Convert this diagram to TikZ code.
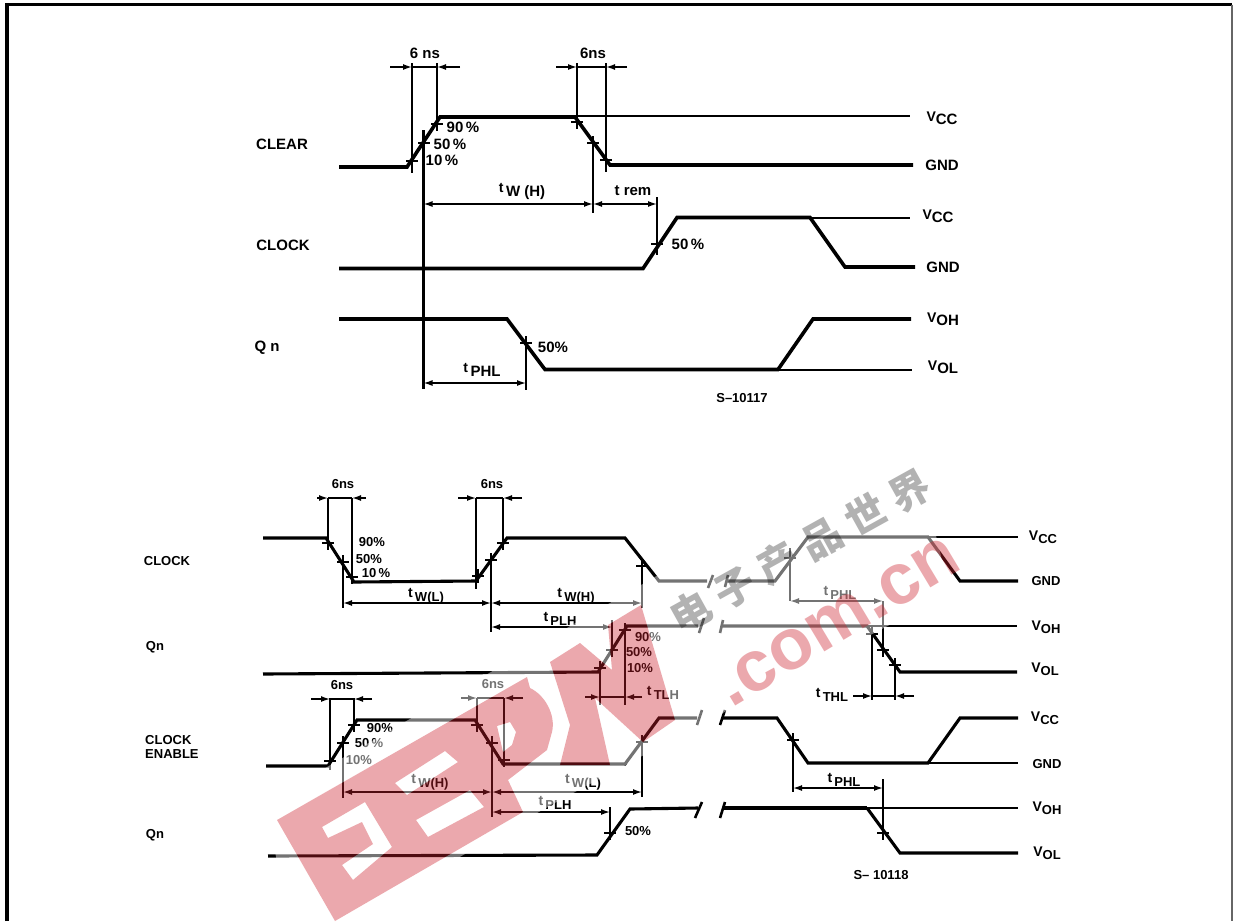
\documentclass[tikz,border=0pt]{standalone}
\usepackage{fontspec}
\setmainfont{Liberation Sans}
\newfontfamily\cjkwm{Noto Sans CJK SC}
\usetikzlibrary{arrows.meta}
\definecolor{wmred}{RGB}{205,33,44}
\newcommand{\szA}{\fontsize{15}{15}\selectfont\bfseries}
\newcommand{\szB}{\fontsize{13}{13}\selectfont\bfseries}
\newcommand{\tlabA}[1]{\raisebox{4pt}{\fontsize{14}{14}\selectfont t}\,#1}
\newcommand{\vlabA}[1]{\raisebox{3pt}{\fontsize{14}{14}\selectfont V}#1}
\tikzset{
  thickwave/.style={line width=3.6pt,line join=miter,line cap=butt},
  lowwave/.style={line width=3.1pt,line join=miter,line cap=butt},
  thinwave/.style={line width=2pt},
  guide/.style={line width=2.2pt},
  dimline/.style={line width=1.5pt,{Latex[length=9pt,width=6pt]}-{Latex[length=9pt,width=6pt]}},
  dimtail/.style={line width=1.5pt,-{Latex[length=9pt,width=6pt]}},
  crossmark/.style={line width=1.6pt},
  breakmark/.style={line width=2.6pt},
  lblA/.style={inner sep=0pt,font=\szA},
  lblB/.style={inner sep=0pt,font=\szB},
}
\newcommand{\tk}[2]{\draw[crossmark] (#1-6,#2)--(#1+6,#2) (#1,#2-7)--(#1,#2+7);}
\newcommand{\outdim}[5]{\draw[dimtail] (#1,#3)--(#2,#3); \draw[dimtail] (#4,#3)--(#5,#3); \draw[crossmark] (#2,#3)--(#5,#3);}
\newcommand{\logopath}{
  (277,820)--(527,677)--(530,688).. controls (545,695) and (556,715) .. (552,732)--(547,750)--(508,780)--(523,812)--(335,921)--cycle
  (497,726)--(510,722)--(516,732)--(512,745)--(503,752)--cycle
  (322,827)--(365,802)--(392,847)--(353,880)--(342,865)--(373,844)--(362,822)--(328,838)--cycle
  (395,783)--(445,751)--(458,762)--(407,795)--cycle
  (416,820)--(470,790)--(484,807)--(428,837)--cycle
  (550,662)--(580,643)--(612,670)--(608,625)--(641,605)--(675,720)--(643,742)--(595,698)--(610,765)--(560,765)--(570,725)--cycle
}
\begin{document}
\begin{tikzpicture}[x=1pt,y=-1pt]
\useasboundingbox (0,0) rectangle (1233,921);
\fill[white] (0,0) rectangle (1233,921);
% frame
\draw[line width=3.4pt] (7,921)--(7,4.5)--(1232,4.5);
\draw[line width=2pt,black!60] (1232,4.5)--(1232,921);

%% ---------- upper diagram ----------
% CLEAR
\draw[thickwave] (339,167)--(407,167)--(440,117)--(575,117)--(610,165)--(913,165);
\draw[thinwave] (575,115.5)--(910,115.5);
\draw[guide] (412,63)--(412,173) (437,63)--(437,117) (577,63)--(577,117) (606,63)--(606,172);
\outdim{390}{412}{67}{460}{437}
\outdim{556}{577}{67}{627}{606}
\tk{412}{161}\tk{424}{143}\tk{437}{124}\tk{577}{122}\tk{593}{143}\tk{606}{160}
\node[lblA] (n1) at (425,53) {6 ns};
\node[lblA] (n2) at (593,53) {6ns};
\node[lblA] (n3) at (463,127) {90\,\%};
\node[lblA] (n4) at (450,144) {50\,\%};
\node[lblA] (n5) at (442,160) {10\,\%};
\node[lblA] (n6) at (282,144) {CLEAR};
\node[lblA] (n7) at (283,245) {CLOCK};
\node[lblA] (n8) at (267,348) {Q n};
\node[lblA] (n9) at (942,118) {\vlabA{CC}};
\node[lblA] (n10) at (942,165) {GND};
\node[lblA] (n11) at (938,216) {\vlabA{CC}};
\node[lblA] (n12) at (943,267) {GND};
\node[lblA] (n13) at (943,319) {\vlabA{OH}};
\node[lblA] (n14) at (943,367) {\vlabA{OL}};
\node[lblB] (n15) at (742,398) {S--10117};
\node[lblA] (n16) at (522,191) {\tlabA{W (H)}};
\node[lblA] (n17) at (633,191) {t rem};
\node[lblA] (n18) at (688,244) {50\,\%};
\node[lblA] (n19) at (553,347) {50\%};
\node[lblA] (n20) at (482,370) {\tlabA{PHL}};
% CLOCK
\draw[thickwave] (339,268.5)--(643,268.5)--(677,217.5)--(810,217.5)--(845,267)--(915,267);
\draw[thinwave] (810,217.5)--(910,217.5);
\draw[guide] (423.5,130)--(423.5,389) (593,142)--(593,213) (657,197)--(657,255) (526,340)--(526,390);
\draw[dimline] (423.5,204)--(593,204);
\draw[dimline] (593,204)--(657,204);
\tk{657}{244}
% Qn
\draw[thickwave] (339,319)--(507,319)--(545,369.5)--(778,369.5)--(813,319)--(911,319);
\draw[thinwave] (778,369.5)--(912,369.5);
\draw[dimline] (423.5,383)--(526,383);
\tk{526}{343}

%% ---------- lower diagram ----------
% CLOCK
\draw[lowwave] (263,538)--(326,538)--(354,582)--(476,581)--(507,538)--(625,538)--(659,581)--(707,581);
\draw[breakmark] (708,588)--(713,575) (725,587)--(728,575);
\draw[lowwave] (726,581)--(775,581)--(808,537)--(928,537)--(960,581)--(1018,581);
\draw[thinwave] (928,537)--(1018,537);
\draw[guide] (328,498)--(328,538) (352,498)--(352,580) (476,498)--(476,589) (503,498)--(503,540);
\outdim{317}{328}{498}{366}{352}
\outdim{458}{476}{498}{522}{503}
\draw[guide] (343,562)--(343,608) (491,560)--(491,632) (642,560)--(642,608);
\draw[dimline] (343,603)--(491,603);
\draw[dimline] (491,603)--(642,603);
\draw[dimline] (491,627)--(612,627);
\tk{328}{543}\tk{343}{562}\tk{352}{577}\tk{478}{576}\tk{491}{560}\tk{503}{543}\tk{642}{566}
\draw[guide] (612,620)--(612,650) (600,674)--(600,705) (625,630)--(625,705);
\outdim{585}{600}{697}{642}{625}
\tk{600}{668}\tk{612}{650}\tk{625}{630}
\draw[guide] (790,548)--(790,601) (883,601)--(883,647) (872,633)--(872,700) (895,668)--(895,700);
\draw[dimline] (790,601)--(883,601);
\outdim{853}{872}{696}{914}{895}
\tk{790}{558}\tk{883}{650}\tk{872}{634}\tk{895}{665}
% Qn
\draw[lowwave] (263,674)--(598,672)--(627,626)--(698,626);
\draw[breakmark] (699,633)--(704,618) (720,633)--(723,620);
\draw[lowwave] (722,626)--(867,626)--(900,672)--(1017,672);
\draw[thinwave] (867,625.5)--(1017,625.5);
% CLOCK ENABLE
\draw[lowwave] (266,766)--(328,766)--(357,720)--(475,720)--(503,764)--(625,764)--(659,718)--(697,718);
\draw[breakmark] (697,725)--(702,710) (720,725)--(725,710);
\draw[lowwave] (723,718)--(777,718)--(808,763)--(928,763)--(960,718)--(1018,718);
\draw[thinwave] (928,763)--(1018,763);
\draw[guide] (330,698)--(330,770) (354,698)--(354,722) (477,698)--(477,720) (504,698)--(504,763);
\outdim{311}{330}{699}{372}{354}
\outdim{461}{477}{698}{523}{504}
\draw[guide] (343,743)--(343,798) (492,743)--(492,817) (642,742)--(642,797);
\draw[dimline] (343,792)--(492,792);
\draw[dimline] (492,792)--(642,792);
\draw[dimline] (492,812)--(610,812);
\tk{330}{761}\tk{343}{743}\tk{354}{725}\tk{477}{725}\tk{492}{743}\tk{504}{760}\tk{642}{742}
\draw[guide] (793,733)--(793,792) (883,779)--(883,835) (610,807)--(610,837);
\draw[dimline] (793,788)--(883,788);
\tk{793}{740}\tk{883}{833}\tk{610}{833}
% Qn
\draw[lowwave] (268,856)--(597,855)--(630,809)--(698,808);
\draw[breakmark] (695,818)--(702,802) (720,818)--(725,802);
\draw[lowwave] (723,808)--(867,808);
\draw[thinwave] (867,808)--(1018,808);
\draw[lowwave] (867,808)--(900,853)--(1018,853);

% lower labels
\node[lblB] (m1) at (167,561) {CLOCK};
\node[lblB] (m2) at (155,647) {Qn};
\node[lblB,align=left,anchor=west] (m3) at (145,747) {CLOCK\\[1pt]ENABLE};
\node[lblB] (m4) at (155,835) {Qn};
\node[lblB] (m5) at (343,484) {6ns};
\node[lblB] (m6) at (492,484) {6ns};
\node[lblB] (m7) at (372,542) {90\%};
\node[lblB] (m8) at (369,559) {50\%};
\node[lblB] (m9) at (376,573) {10\,\%};
\node[lblB] (m10) at (426,596) {\tlabA{W(L)}};
\node[lblB] (m11) at (576,596) {\tlabA{W(H)}};
\node[lblB] (m12) at (560,619) {\tlabA{PLH}};
\node[lblB] (m13) at (648,637) {90\%};
\node[lblB] (m14) at (639,652) {50\%};
\node[lblB] (m15) at (640,668) {10\%};
\node[lblB] (m16) at (663,693) {\tlabA{TLH}};
\node[lblB] (m17) at (840,593) {\tlabA{PHL}};
\node[lblB] (m18) at (832,695) {\tlabA{THL}};
\node[lblB] (m19) at (342,685) {6ns};
\node[lblB] (m20) at (493,684) {6ns};
\node[lblB] (m21) at (380,728) {90\%};
\node[lblB] (m22) at (369,743) {50\,\%};
\node[lblB] (m23) at (359,760) {10\%};
\node[lblB] (m24) at (430,782) {\tlabA{W(H)}};
\node[lblB] (m25) at (583,782) {\tlabA{W(L)}};
\node[lblB] (m26) at (555,803) {\tlabA{PLH}};
\node[lblB] (m27) at (638,831) {50\%};
\node[lblB] (m28) at (844,780) {\tlabA{PHL}};
\node[lblB] (m29) at (881,875) {S-- 10118};
\node[lblB] (m30) at (1043,537) {\vlabA{CC}};
\node[lblB] (m31) at (1046,581) {GND};
\node[lblB] (m32) at (1046,627) {\vlabA{OH}};
\node[lblB] (m33) at (1045,669) {\vlabA{OL}};
\node[lblB] (m34) at (1045,718) {\vlabA{CC}};
\node[lblB] (m35) at (1047,764) {GND};
\node[lblB] (m36) at (1047,808) {\vlabA{OH}};
\node[lblB] (m37) at (1047,853) {\vlabA{OL}};

%% ---------- watermark ----------
\fill[white,opacity=.45,even odd rule] (265,803)--(910,429)--(950,593)--(700,725)--(560,800)--(340,925)--(290,925)--cycle \logopath;
\fill[wmred,opacity=.39,even odd rule] \logopath;
\node[inner sep=0pt,rotate=31,text=wmred,opacity=.39,font=\fontsize{72}{72}\selectfont\bfseries] (w1) at (838,622) {.com.cn};
\node[inner sep=0pt,rotate=29,text=black,opacity=.3,font=\cjkwm\fontsize{40}{40}\selectfont\bfseries] (w2) at (800,551) {电\hspace{10pt}子\hspace{10pt}产\hspace{10pt}品\hspace{10pt}世\hspace{10pt}界};
\end{tikzpicture}
\end{document}
